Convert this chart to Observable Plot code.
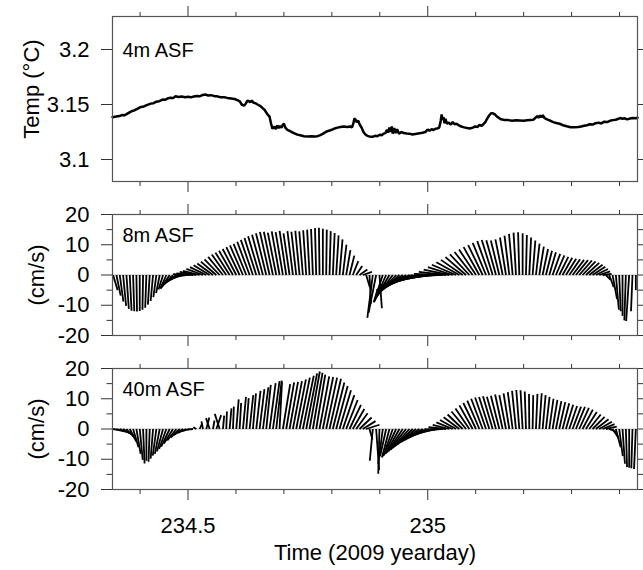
<!DOCTYPE html>
<html><head><meta charset="utf-8">
<script src="https://cdn.jsdelivr.net/npm/d3@7"></script>
<script src="https://cdn.jsdelivr.net/npm/@observablehq/plot@0.6"></script>
<style>
body{margin:0;background:#fff;}
#chart{position:relative;width:643px;height:570px;overflow:hidden;background:#fff;}
#chart svg{position:absolute;left:0;}
</style></head><body><div id="chart"></div>
<script>
// ---------- data ----------
const xDomain = [234.3425, 235.4375];
const minorX = [234.4, 234.6, 234.7, 234.8, 234.9, 235.1, 235.2, 235.3, 235.4];
const majorX = [234.5, 235];
const tempTicks = [3.1, 3.15, 3.2];
const velMajor = [-20, -10, 0, 10, 20];
const velMinor = [-15, -5, 5, 15];
const panelLabels = ["4m ASF", "8m ASF", "40m ASF"];

const tempDay = [234.3425,234.350,234.357,234.363,234.367,234.372,234.378,234.384,234.388,234.395,234.402,234.408,234.414,234.422,234.428,234.434,234.440,234.447,234.452,234.458,234.464,234.469,234.474,234.480,234.487,234.494,234.500,234.506,234.512,234.518,234.524,234.530,234.537,234.542,234.548,234.555,234.561,234.568,234.575,234.582,234.590,234.597,234.603,234.608,234.612,234.617,234.620,234.624,234.627,234.630,234.633,234.637,234.641,234.645,234.650,234.655,234.660,234.665,234.670,234.673,234.676,234.680,234.683,234.686,234.689,234.692,234.695,234.698,234.700,234.703,234.707,234.711,234.716,234.722,234.728,234.734,234.742,234.750,234.758,234.765,234.770,234.776,234.782,234.788,234.794,234.800,234.806,234.812,234.818,234.825,234.832,234.838,234.842,234.845,234.847,234.849,234.852,234.855,234.858,234.862,234.866,234.870,234.874,234.878,234.885,234.890,234.895,234.900,234.904,234.908,234.912,234.915,234.917,234.920,234.922,234.925,234.927,234.930,234.933,234.936,234.940,234.945,234.950,234.956,234.962,234.968,234.974,234.980,234.986,234.991,234.995,235.000,235.004,235.008,235.012,235.016,235.020,235.024,235.027,235.029,235.031,235.033,235.035,235.037,235.040,235.044,235.048,235.052,235.056,235.060,235.065,235.070,235.076,235.082,235.088,235.094,235.099,235.104,235.108,235.112,235.116,235.120,235.124,235.128,235.132,235.136,235.140,235.144,235.148,235.153,235.160,235.168,235.176,235.184,235.192,235.200,235.207,235.214,235.220,235.225,235.228,235.231,235.234,235.237,235.240,235.244,235.250,235.256,235.262,235.268,235.275,235.282,235.290,235.298,235.306,235.314,235.320,235.326,235.332,235.338,235.344,235.350,235.356,235.362,235.368,235.374,235.380,235.386,235.392,235.398,235.402,235.406,235.410,235.416,235.422,235.428,235.434,235.4375];
const tempVal = [3.1385,3.1390,3.1395,3.1405,3.1402,3.1412,3.1428,3.1442,3.1446,3.1462,3.1478,3.1482,3.1494,3.1508,3.1512,3.1526,3.1530,3.1545,3.1543,3.1556,3.1562,3.1558,3.1575,3.1568,3.1572,3.1566,3.1570,3.1565,3.1572,3.1578,3.1574,3.1586,3.1590,3.1582,3.1585,3.1576,3.1574,3.1566,3.1567,3.1560,3.1555,3.1550,3.1540,3.1528,3.1500,3.1490,3.1505,3.1535,3.1530,3.1520,3.1535,3.1515,3.1512,3.1500,3.1488,3.1470,3.1450,3.1415,3.1390,3.1330,3.1280,3.1298,3.1276,3.1310,3.1285,3.1305,3.1290,3.1318,3.1325,3.1290,3.1270,3.1262,3.1250,3.1238,3.1226,3.1220,3.1212,3.1210,3.1212,3.1210,3.1212,3.1222,3.1235,3.1252,3.1262,3.1270,3.1282,3.1290,3.1296,3.1300,3.1296,3.1300,3.1292,3.1330,3.1372,3.1365,3.1340,3.1352,3.1318,3.1290,3.1250,3.1228,3.1215,3.1210,3.1206,3.1215,3.1212,3.1225,3.1220,3.1235,3.1240,3.1270,3.1245,3.1290,3.1250,3.1300,3.1235,3.1285,3.1240,3.1275,3.1235,3.1250,3.1240,3.1236,3.1235,3.1228,3.1232,3.1236,3.1240,3.1246,3.1250,3.1272,3.1262,3.1275,3.1268,3.1280,3.1282,3.1290,3.1350,3.1410,3.1360,3.1385,3.1330,3.1370,3.1325,3.1335,3.1318,3.1340,3.1320,3.1325,3.1310,3.1300,3.1292,3.1286,3.1282,3.1290,3.1300,3.1296,3.1315,3.1305,3.1320,3.1340,3.1372,3.1400,3.1420,3.1420,3.1410,3.1392,3.1380,3.1365,3.1360,3.1358,3.1352,3.1356,3.1355,3.1352,3.1356,3.1360,3.1362,3.1380,3.1395,3.1380,3.1400,3.1385,3.1402,3.1375,3.1362,3.1352,3.1340,3.1332,3.1325,3.1312,3.1302,3.1294,3.1293,3.1296,3.1300,3.1306,3.1312,3.1320,3.1318,3.1330,3.1335,3.1328,3.1344,3.1340,3.1352,3.1358,3.1362,3.1370,3.1378,3.1370,3.1375,3.1365,3.1372,3.1378,3.1375,3.1380];

// current sticks: 10-minute samples starting 234.34375
const stickStart = 234.34375;
const stickStep = 1 / 144;
const u8 = [1.5,1.4,1.2,1.0,0.8,0.6,0.4,0.2,0,-0.2,-0.4,-0.6,-0.8,-1.0,-1.2,
 -1.5,-2,-3,-4,-4.8,-5.3,-5.5,-5.5,
 -5.5,-5.5,-5.5,-5.5,-5.5,-5.4,-5.3,-5.2,-5.1,-5.0,-4.9,-4.8,-4.7,-4.6,-4.5,-4.4,-4.3,-4.2,-4.1,-4.0,-3.9,-3.8,-3.6,-3.4,-3.2,
 -3.0,-2.8,-2.6,-2.4,-2.2,-2.0,-1.8,-1.6,-1.4,-1.2,-1.0,-0.8,-0.6,-0.4,-0.2,0,0.2,0.4,0.6,0.8,1.0,1.2,1.4,1.6,1.8,2.0,2.6,3.0,
 1.2,0.5,-1.8,-2.5,0.8,
 -3,-4,-5,-6,-7,-8,-9,-10,-11,-12,-12.5,-13,-13,-13,-12.5,-12,-11,-10,-9.5,-9,
 -8.5,-8.2,-8,-7.6,-7.2,-6.8,-6.4,-6.0,-5.6,-5.2,-4.8,-4.4,-4.0,-3.6,-3.2,-2.8,-2.4,-2.0,-1.6,-1.2,-0.8,-0.4,0,0.3,0.6,0.9,1.2,1.5,1.8,2.0,2.2,2.5,2.8,3.0,3.2,3.4,3.6,3.8,4.0,4.2,4.3,4.4,4.4,4.2,4.0,3.6,3.0,
 1.5,1.5,1.5,1.0,0.5,0,-0.5,-1,-0.5,0];
const v8 = [-5,-6.8,-8.8,-10.2,-11.2,-11.8,-12,-12.1,-11.9,-11.5,-10.8,-9.8,-8.6,-7.3,-6.0,
 -4.8,-4.5,-4.5,-4.2,-3.6,-2.8,-1.8,-0.8,
 0.3,0.5,1.0,1.4,2.0,2.6,3.2,3.8,4.4,5.2,6.0,6.8,7.4,8.0,8.6,9.2,9.8,10.3,11.0,11.6,12.2,12.8,13.3,13.8,14.2,
 14.3,14.0,14.4,14.2,14.6,13.8,14.5,14.3,14.6,14.4,14.8,15.0,15.2,15.5,15.6,15.3,15.0,14.5,13.9,13.1,11.8,10.0,8.2,6.4,4.6,3.0,1.8,1.0,
 -4,-9.5,-14.2,-12.5,-11,
 -9,-9,-8.5,-8,-7.5,-7,-6.5,-6,-5.5,-5,-4.4,-3.8,-3.2,-2.6,-2.0,-1.4,-0.8,-0.2,0.4,1.0,
 1.8,2.6,3.4,4.2,5.0,5.9,6.8,7.6,8.4,9.2,9.9,10.6,11.2,11.6,11.5,11.4,11.8,12.4,13.0,13.6,14.0,14.1,13.8,13.2,12.4,11.4,10.4,9.4,8.6,8.0,7.5,7.0,6.5,6.0,5.7,5.4,5.2,5.0,4.9,4.8,4.5,4.0,3.4,2.7,2.0,1.2,0.4,
 -1.5,-4,-8,-11.5,-12,-13.5,-15,-15.2,-12,-5];
const u40 = [4,4.2,4,3.6,2.8,2.2,1.8,1.4,1.0,0.5,0,-0.4,-0.8,-1.2,-1.6,-2.0,-2.4,-2.8,-3.0,-3.0,-3.0,-3.0,-2.8,-2.5,-2.0,
 -1.0,0.8,-0.5,1.0,-1.2,0.5,1.6,-1.6,0.4,0.2,0.6,0.3,0.8,0.5,1.0,0.8,1.2,1.0,1.4,1.6,1.8,1.5,2.0,2.2,1.8,0.8,2.4,2.6,2.8,3.0,3.2,3.4,3.6,3.6,3.4,3.2,3.0,3.2,3.4,3.6,3.8,3.8,3.8,3.8,3.8,3.8,3.8,3.8,3.8,4.0,4.2,4.4,
 1.0,-1.0,1.0,-0.4,-1.5,-2.0,-2.5,-3.2,-4.0,-4.6,-5.2,-5.8,-6.2,-6.6,-7.0,-7.2,-7.2,-7.2,-7.0,-6.8,-6.5,-6.2,-6.0,-5.8,
 -5.5,-5.4,-5.3,-5.2,-5.0,-4.8,-4.6,-4.4,-4.2,-4.0,-3.8,-3.6,-3.4,-3.2,-3.0,-2.8,-2.5,-2.2,-1.9,-1.6,-1.3,-1.0,-0.7,-0.4,-0.1,0.2,0.5,0.8,1.0,1.2,1.4,1.6,1.8,2.0,2.2,2.4,2.6,2.8,3.0,3.2,3.4,3.6,3.8,4.0,4.2,4.2,4.0,3.6,
 2.5,2.0,1.6,1.2,0.8,0.4,0,-0.4,-0.6];
const v40 = [-0.8,-1.2,-1.6,-2.2,-3.0,-4.2,-6.0,-8.2,-10.2,-11.4,-10.5,-10.8,-9.8,-8.8,-8.2,-7.4,-6.6,-5.8,-4.8,-3.8,-2.8,-2.0,-1.3,-0.7,-0.2,
 0.6,1.8,2.5,3.8,3.6,2.8,4.6,5.0,4.4,5.8,6.8,7.4,9.8,8.6,10.6,10.2,11.2,11.8,12.6,13.2,13.8,14.6,15.2,15.8,16.0,15.6,14.8,15.4,15.6,15.8,16.4,17.0,17.6,18.4,19.0,18.6,18.0,17.4,17.2,17.0,16.6,15.4,14.2,12.8,11.2,9.6,8.0,6.6,5.2,3.8,2.6,1.4,
 -3.5,-10.5,-13.5,-14.8,-11.5,-9.0,-9.4,-9.0,-8.6,-8.2,-7.8,-7.3,-6.8,-6.2,-5.6,-5.0,-4.3,-3.6,-2.9,-2.2,-1.5,-0.8,-0.1,0.6,
 1.4,2.2,3.0,3.9,4.8,5.8,6.8,7.8,8.6,9.4,10.0,10.4,10.6,10.8,10.7,11.0,11.4,11.2,11.8,12.2,12.6,12.9,12.8,12.4,11.6,11.2,11.6,11.8,11.2,10.6,10.0,9.6,9.2,8.9,8.5,8.0,7.6,7.4,7.3,7.0,6.4,5.6,4.8,4.0,3.2,2.4,1.6,0.8,
 -1.0,-3.0,-6.0,-9.0,-11.5,-12.6,-12.8,-13.0,-13.2];

// ---------- layout ----------
const W = 643, ML = 112, MR = 6;
const FONT = "'Liberation Sans', Arial, Helvetica, sans-serif";
const TICK = "#333", FRAME = "#555";
const FS = 22;
const STICK_H = 121; // frame height of stick panels
const pxPerDay = (W - ML - MR) / (xDomain[1] - xDomain[0]);
const pxPerUnit = STICK_H / 40;
const k = pxPerUnit / pxPerDay; // day offset per cm/s, keeps stick angles true

const temp = tempDay.map((t, i) => ({t, T: tempVal[i]}));
function sticks(u, v) {
  return v.map((vv, i) => {
    const t = stickStart + i * stickStep;
    return {t, t2: t + u[i] * k, v: vv};
  });
}
const blank = () => "";

function xAxes(labels) {
  return [
    Plot.axisX(minorX, {anchor: "top", tickSize: 5, tickFormat: blank, label: null, stroke: TICK}),
    Plot.axisX(majorX, {anchor: "top", tickSize: 11, tickFormat: blank, label: null, stroke: TICK}),
    Plot.axisX(minorX, {anchor: "bottom", tickSize: 5, tickFormat: blank, label: null, stroke: TICK}),
    Plot.axisX(majorX, {anchor: "bottom", tickSize: 11, tickPadding: 17, tickFormat: labels ? (d => String(d)) : blank, label: null, stroke: TICK, fontSize: FS})
  ];
}
function yAxes(major, minor) {
  const m = [
    Plot.axisY(major, {anchor: "left", tickSize: 11, tickPadding: 12, tickFormat: d => String(d), label: null, stroke: TICK, fontSize: FS}),
    Plot.axisY(major, {anchor: "right", tickSize: 11, tickFormat: blank, label: null, stroke: TICK})
  ];
  if (minor) {
    m.push(Plot.axisY(minor, {anchor: "left", tickSize: 5.5, tickFormat: blank, label: null, stroke: TICK}));
    m.push(Plot.axisY(minor, {anchor: "right", tickSize: 5.5, tickFormat: blank, label: null, stroke: TICK}));
  }
  return m;
}
const style = {fontFamily: FONT, fontSize: FS + "px", color: "black", background: "transparent", overflow: "visible"};

function place(svg, top) {
  svg.style.top = top + "px";
  document.getElementById("chart").appendChild(svg);
}

// Panel 1: temperature
place(Plot.plot({
  width: W, height: 200, marginLeft: ML, marginRight: MR, marginTop: 16, marginBottom: 19,
  style,
  x: {domain: xDomain, axis: null},
  y: {domain: [3.08, 3.23], axis: null},
  marks: [
    Plot.line(temp, {x: "t", y: "T", stroke: "black", strokeWidth: 2.5, strokeLinejoin: "miter"}),
    ...xAxes(false),
    ...yAxes(tempTicks, null),
    Plot.frame({stroke: FRAME, strokeWidth: 1.2}),
    Plot.text([panelLabels[0]], {frameAnchor: "top-left", textAnchor: "start", lineAnchor: "middle", dx: 10, dy: 34, fontSize: 20}),
    Plot.text(["Temp (°C)"], {frameAnchor: "left", textAnchor: "middle", lineAnchor: "middle", rotate: -90, dx: -81, dy: -10, fontSize: FS})
  ]
}), 0);

function stickPanel(u, v, label, top, h, mt, mb, labels) {
  const marks = [
    Plot.ruleY([0], {stroke: "#aaa", strokeWidth: 0.8}),
    Plot.link(sticks(u, v), {x1: "t", y1: () => 0, x2: "t2", y2: "v", stroke: "black", strokeWidth: 1.8, clip: true}),
    ...xAxes(labels),
    ...yAxes(velMajor, velMinor),
    Plot.frame({stroke: FRAME, strokeWidth: 1.2}),
    Plot.text([label], {frameAnchor: "top-left", textAnchor: "start", lineAnchor: "middle", dx: 10, dy: 21, fontSize: 20}),
    Plot.text(["(cm/s)"], {frameAnchor: "left", textAnchor: "middle", lineAnchor: "middle", rotate: -90, dx: -76, fontSize: FS})
  ];
  if (labels) marks.push(Plot.text(["Time (2009 yearday)"], {frameAnchor: "bottom", lineAnchor: "middle", dy: 63, fontSize: FS}));
  place(Plot.plot({
    width: W, height: h, marginLeft: ML, marginRight: MR, marginTop: mt, marginBottom: mb,
    style,
    x: {domain: xDomain, axis: null},
    y: {domain: [-20, 20], axis: null},
    marks
  }), top);
}
stickPanel(u8, v8, panelLabels[1], 200, 150, 14, 15, false);
stickPanel(u40, v40, panelLabels[2], 350, 220, 18, 81, true);
</script></body></html>
